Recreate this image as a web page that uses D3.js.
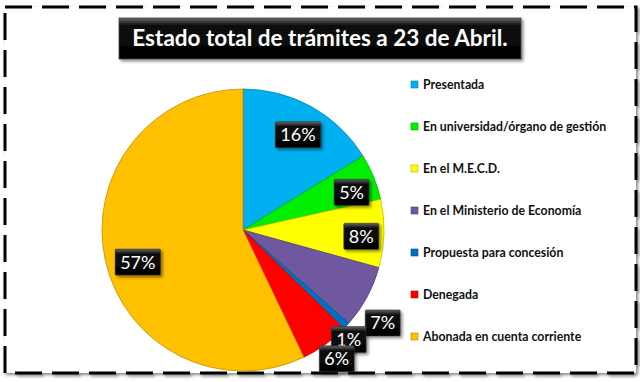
<!DOCTYPE html>
<html lang="es">
<head>
<meta charset="UTF-8">
<title>Estado total de trámites</title>
<script src="https://d3js.org/d3.v7.min.js"></script>
<style>
  body { margin: 0; background: #fff; }
  svg { display: block; font-family: Lato, "Open Sans", sans-serif; }
</style>
</head>
<body>
<svg width="640" height="382"></svg>
<script>
// data (percent of total)
const categories = ["Presentada", "En universidad/órgano de gestión", "En el M.E.C.D.",
  "En el Ministerio de Economía", "Propuesta para concesión", "Denegada", "Abonada en cuenta corriente"]
const values = [16.2, 5.3, 7.8, 7.2, 0.8, 5.6, 57.1]
const title = "Estado total de trámites a 23 de Abril."

const colors = ["#00b0f0", "#00ee00", "#ffff00", "#7058a0", "#0070c0", "#ff0000", "#ffc000"]
// label placement: radius factor and angle nudge (degrees), Excel moved the small ones out
const labelRadius = [0.78, 0.815, 0.84, 1.19, 1.08, 1.13, 0.78]
const labelNudge = [0.8, 3, 1.6, 5.2, 3.2, -0.4, -4.2]

let svg = d3.select("svg")
let width = 640, height = 382

let defs = svg.append("defs")
let sh = defs.append("filter").attr("id", "shadow").attr("x", "-20%").attr("y", "-20%").attr("width", "150%").attr("height", "150%")
sh.append("feDropShadow").attr("dx", 2).attr("dy", 2).attr("stdDeviation", 1.5).attr("flood-color", "#000").attr("flood-opacity", 0.45)
let boxGrad = defs.append("linearGradient").attr("id", "boxgrad").attr("x1", 0).attr("y1", 0).attr("x2", 0).attr("y2", 1)
boxGrad.append("stop").attr("offset", "0").attr("stop-color", "#666")
boxGrad.append("stop").attr("offset", "0.18").attr("stop-color", "#111")
boxGrad.append("stop").attr("offset", "1").attr("stop-color", "#000")

// outer frame with shadow
svg.append("rect").attr("x", 0).attr("y", 0).attr("width", width).attr("height", height).attr("fill", "#fff")
svg.append("rect")
  .attr("x", 5).attr("y", 7).attr("width", 631).attr("height", 366)
  .attr("fill", "#fff")
  .attr("stroke", "#000").attr("stroke-width", 3)
  .attr("stroke-dasharray", "27 10")
  .attr("filter", "url(#shadow)")

// title
let tg = svg.append("g")
tg.append("rect").attr("x", 119).attr("y", 18).attr("width", 402).attr("height", 41)
  .attr("fill", "url(#boxgrad)").attr("stroke", "#444").attr("stroke-width", 0.8).attr("filter", "url(#shadow)")
tg.append("text").attr("x", 320).attr("y", 46).attr("text-anchor", "middle")
  .attr("fill", "#fff").attr("font-size", 22.5).attr("font-weight", "bold")
  .text(title)

// pie
let cx = 243, cy = 230, r = 141
let pie = d3.pie().sort(null).value(d => d)
let arcs = pie(values)
let arc = d3.arc().innerRadius(0).outerRadius(r)

let g = svg.append("g").attr("transform", `translate(${cx},${cy})`)
g.selectAll("path")
  .data(arcs)
  .enter()
  .append("path")
  .attr("d", arc)
  .attr("fill", (d, i) => colors[i])
  .attr("stroke", (d, i) => d3.color(colors[i]).darker(0.8))
  .attr("stroke-width", 0.8)

// percent labels
let labels = g.selectAll(".lab")
  .data(arcs)
  .enter()
  .append("g")
  .attr("class", "lab")
  .attr("transform", (d, i) => {
    let a = (d.startAngle + d.endAngle) / 2 + labelNudge[i] * Math.PI / 180
    let rr = r * labelRadius[i]
    return `translate(${rr * Math.sin(a)},${-rr * Math.cos(a)})`
  })
let labRect = labels.append("rect").attr("fill", "url(#boxgrad)").attr("stroke", "#333").attr("stroke-width", 0.6)
  .attr("filter", "url(#shadow)")
let labText = labels.append("text")
  .attr("text-anchor", "middle").attr("dy", "0.36em")
  .attr("fill", "#fff").attr("font-size", 18)
  .text(d => Math.round(d.value) + "%")
labText.each(function() {
  let w = this.getComputedTextLength() + 10
  d3.select(this.parentNode).select("rect")
    .attr("x", -w / 2).attr("y", -13).attr("width", w).attr("height", 26).attr("rx", 1)
})

// legend
let legend = svg.append("g").attr("transform", "translate(411,85)")
let items = legend.selectAll("g")
  .data(categories)
  .enter()
  .append("g")
  .attr("transform", (d, i) => `translate(0,${i * 42})`)
items.append("rect")
  .attr("x", 0).attr("y", -4).attr("width", 7).attr("height", 7)
  .attr("fill", (d, i) => colors[i])
  .attr("stroke", (d, i) => d3.color(colors[i]).darker(1)).attr("stroke-width", 0.6)
items.append("text")
  .attr("x", 12).attr("dy", "0.35em")
  .attr("font-size", 12.3).attr("font-weight", "bold").attr("fill", "#111")
  .text(d => d)
</script>
</body>
</html>
